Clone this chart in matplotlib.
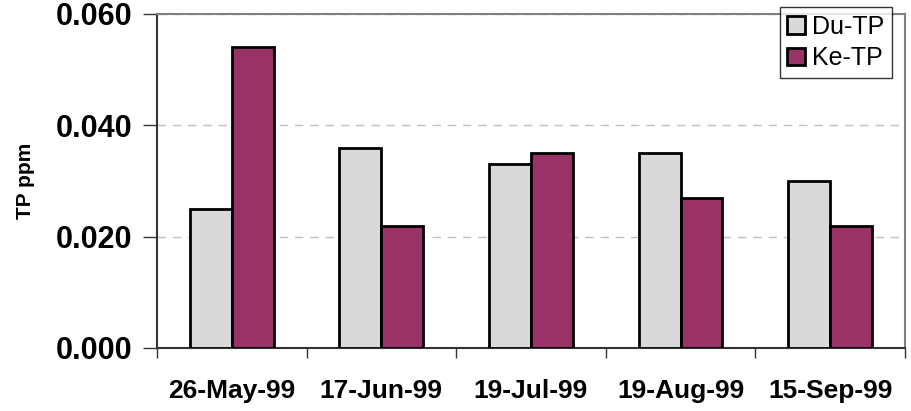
import matplotlib
matplotlib.use("Agg")
import matplotlib.pyplot as plt
import matplotlib.transforms as mtransforms
import numpy as np

dates = ["26-May-99", "17-Jun-99", "19-Jul-99", "19-Aug-99", "15-Sep-99"]
du_tp = [0.025, 0.036, 0.033, 0.035, 0.030]
ke_tp = [0.054, 0.022, 0.035, 0.027, 0.022]
y_ticks = [0.000, 0.020, 0.040, 0.060]

plt.rcParams["font.family"] = ["Liberation Sans", "DejaVu Sans"]

fig = plt.figure(figsize=(9.11, 4.11), dpi=100)
ax = fig.add_axes([0.1723, 0.1533, 0.8211, 0.8127])

x = np.arange(len(dates))
w = 0.28
ax.bar(x - w / 2, du_tp, width=w, color="#d9d9d9", edgecolor="black",
       linewidth=2, label="Du-TP", zorder=3)
ax.bar(x + w / 2, ke_tp, width=w, color="#993366", edgecolor="black",
       linewidth=2, label="Ke-TP", zorder=3)

ax.set_xlim(-0.5, len(dates) - 0.5)
ax.set_ylim(0, 0.060)
ax.set_yticks(y_ticks)
ax.set_yticklabels([f"{v:.3f}" for v in y_ticks], fontsize=22, fontweight="bold")
ax.yaxis.grid(True, linestyle=(0, (6, 5)), color="#c0c0c0", linewidth=1, zorder=0)

# nudge the value labels slightly below their ticks
shift = mtransforms.ScaledTranslation(0, -3 / 72, fig.dpi_scale_trans)
for lbl in ax.get_yticklabels():
    lbl.set_transform(lbl.get_transform() + shift)

ax.set_xticks(x)
ax.set_xticklabels(dates, fontsize=19, fontweight="bold")
ax.tick_params(axis="x", which="major", length=0, pad=22)
ax.set_xticks(np.arange(len(dates) + 1) - 0.5, minor=True)
ax.tick_params(axis="x", which="minor", length=7, direction="out", width=1, color="#333333")
ax.tick_params(axis="y", length=10, direction="out", width=1, color="#333333", pad=8)

for side in ["top", "right"]:
    ax.spines[side].set_color("#808080")
    ax.spines[side].set_linewidth(1.5)
for side in ["left", "bottom"]:
    ax.spines[side].set_color("#333333")
    ax.spines[side].set_linewidth(1.5)

ax.set_ylabel("TP ppm", fontsize=15, fontweight="bold")
ax.yaxis.set_label_coords(-0.163, 0.5)

leg = fig.legend(loc="upper left", bbox_to_anchor=(0.856, 0.982),
                 fontsize=18, frameon=True, fancybox=False, edgecolor="black",
                 handlelength=0.7, handleheight=0.7, handletextpad=0.3,
                 borderpad=0.3, labelspacing=0.3, borderaxespad=0)
leg.get_frame().set_linewidth(1)
leg.set_zorder(10)

fig.savefig("out.png", dpi=100)
